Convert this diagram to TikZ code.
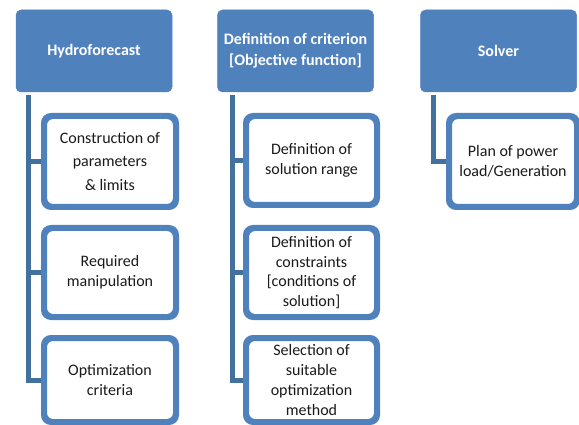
\documentclass[tikz,border=0pt]{standalone}
\usepackage{fontspec}
\setmainfont{Carlito}
\definecolor{topblue}{HTML}{4F81BD}
\definecolor{linkblue}{HTML}{41719C}
\definecolor{txt}{HTML}{1A1A1A}
\begin{document}
\begin{tikzpicture}[x=1pt,y=-1pt,
  topbox/.style={rectangle, rounded corners=5pt, fill=topblue, draw=topblue, line width=0.5pt,
     minimum width=156pt, minimum height=82pt, inner sep=0pt, text=white,
     font=\fontsize{16}{21}\selectfont\bfseries, align=center},
  subbox/.style={rectangle, rounded corners=8pt, fill=white, draw=topblue, line width=4pt,
     inner sep=0pt, text=txt, font=\fontsize{16}{20}\selectfont, align=center},
  link/.style={draw=linkblue, line width=5pt, line join=miter}]
\useasboundingbox (0,0) rectangle (579,425);
% top boxes
\node[topbox] (h) at (94,51) {Hydroforecast};
\node[topbox] (d) at (295.5,51) {Definition of criterion\\{}[Objective function]};
\node[topbox] (s) at (498.5,51) {Solver};
% connector start points
\coordinate (hs) at ([xshift=12.5pt,yshift=-3pt]h.south west);
\coordinate (ds) at ([xshift=15pt,yshift=-3pt]d.south west);
\coordinate (ss) at ([xshift=13pt,yshift=-3pt]s.south west);
% children of Hydroforecast
\node[subbox, minimum width=130pt, minimum height=89pt, font=\fontsize{16}{23.5}\selectfont] (h1) at (110,161.5) {Construction of\\parameters\\\& limits};
\node[subbox, minimum width=130pt, minimum height=87pt] (h2) at (110,272.5) {Required\\manipulation};
\node[subbox, minimum width=130pt, minimum height=82pt] (h3) at (110,380) {Optimization\\criteria};
% children of Definition
\node[subbox, minimum width=129pt, minimum height=87pt] (d1) at (311.5,160.5) {Definition of\\solution range};
\node[subbox, minimum width=129pt, minimum height=87pt, font=\fontsize{16}{19.5}\selectfont] (d2) at (311.5,272.5) {Definition of\\constraints\\{}[conditions of\\solution]};
\node[subbox, minimum width=129pt, minimum height=82pt, font=\fontsize{16}{19.8}\selectfont] (d3) at (311.5,380) {Selection of\\suitable\\optimization\\method};
% child of Solver
\node[subbox, minimum width=126pt, minimum height=89pt] (s1) at (513,161.5) {Plan of power\\load/Generation};
% connectors
\draw[link] (hs) |- (h3.west);
\draw[link] (hs) |- (h1.west);
\draw[link] (hs) |- (h2.west);
\draw[link] (ds) |- (d3.west);
\draw[link] (ds) |- (d1.west);
\draw[link] (ds) |- (d2.west);
\draw[link] (ss) |- (s1.west);
% borders redrawn over the connector ends
\foreach \n in {h1,h2,h3,d1,d2,d3,s1}{
  \draw[draw=topblue, line width=4pt, rounded corners=8pt] (\n.north west) rectangle (\n.south east);
}
\end{tikzpicture}
\end{document}
